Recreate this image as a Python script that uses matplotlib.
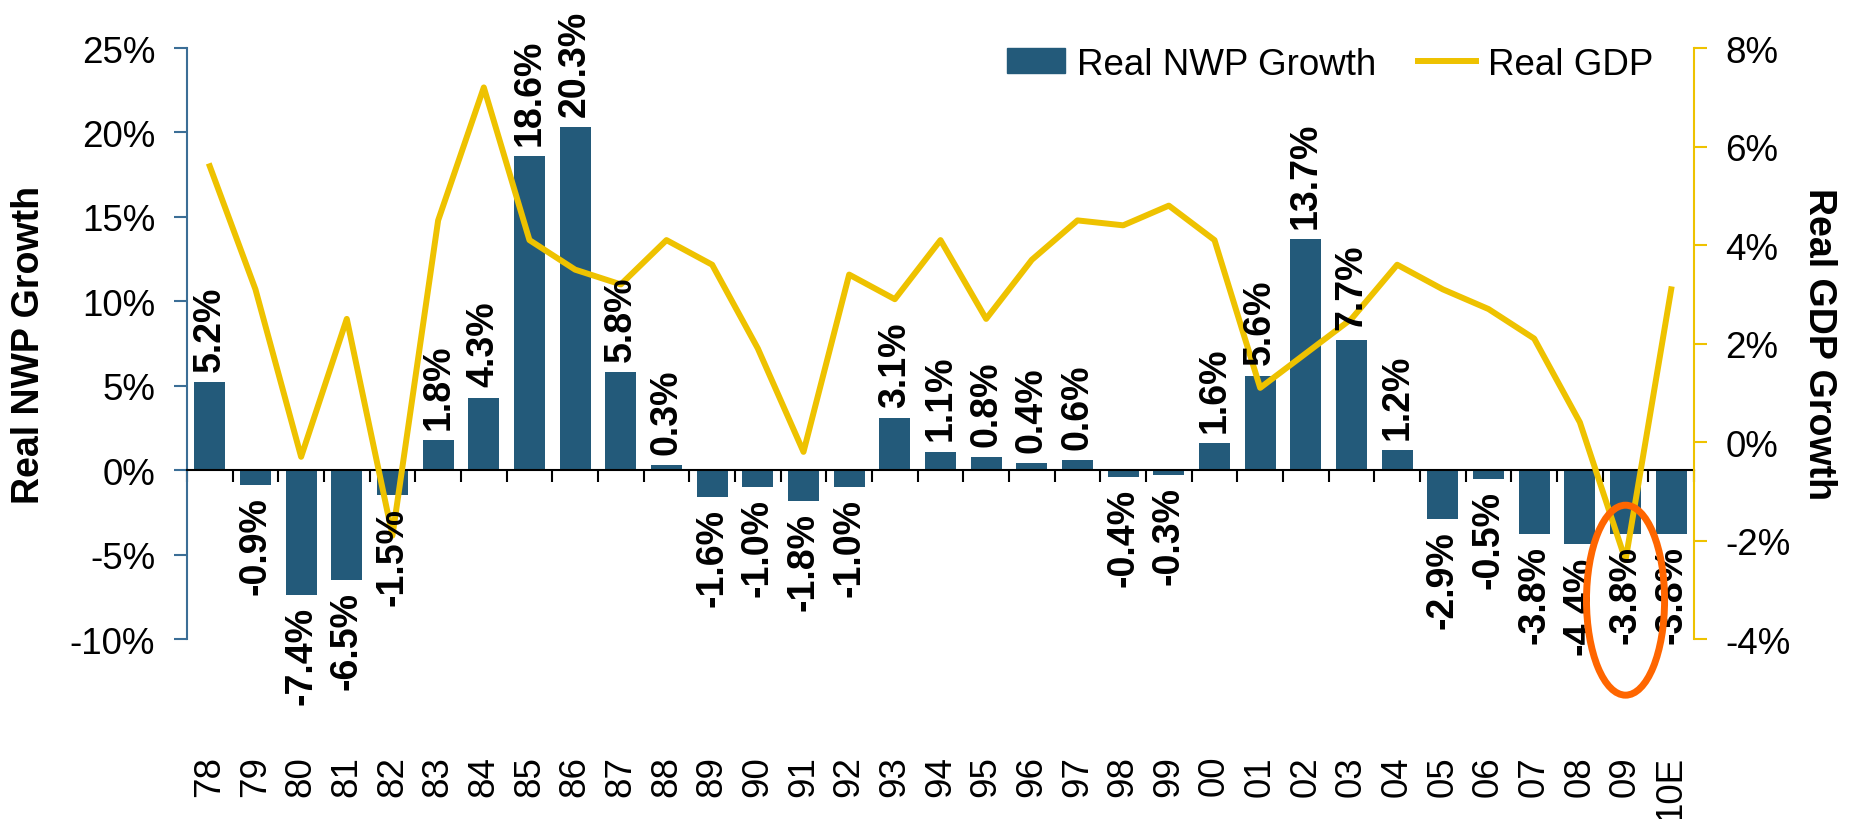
import numpy as np
import matplotlib.pyplot as plt
from matplotlib.patches import Ellipse, Patch
from matplotlib.lines import Line2D

plt.rcParams['font.family'] = ['Liberation Sans', 'DejaVu Sans']

# chart data
years = ['78', '79', '80', '81', '82', '83', '84', '85', '86', '87', '88', '89',
         '90', '91', '92', '93', '94', '95', '96', '97', '98', '99', '00', '01',
         '02', '03', '04', '05', '06', '07', '08', '09', '10E']
nwp_growth = [5.2, -0.9, -7.4, -6.5, -1.5, 1.8, 4.3, 18.6, 20.3, 5.8, 0.3, -1.6,
              -1.0, -1.8, -1.0, 3.1, 1.1, 0.8, 0.4, 0.6, -0.4, -0.3, 1.6, 5.6,
              13.7, 7.7, 1.2, -2.9, -0.5, -3.8, -4.4, -3.8, -3.8]
gdp_growth = [5.6, 3.1, -0.3, 2.5, -1.9, 4.5, 7.2, 4.1, 3.5, 3.2, 4.1, 3.6,
              1.9, -0.2, 3.4, 2.9, 4.1, 2.5, 3.7, 4.5, 4.4, 4.8, 4.1, 1.1,
              1.8, 2.5, 3.6, 3.1, 2.7, 2.1, 0.4, -2.4, 3.1]
nwp_ticks = [-10, -5, 0, 5, 10, 15, 20, 25]
gdp_ticks = [-4, -2, 0, 2, 4, 6, 8]

bar_color = '#235a7a'
gold = '#eec200'
blue_axis = '#3b6e96'

x = np.arange(len(years))

fig = plt.figure(figsize=(18.51, 8.2), dpi=100)
ax = fig.add_axes([0.101, 0.2195, 0.8142, 0.7207])
ax2 = ax.twinx()

ax.bar(x, nwp_growth, width=0.68, color=bar_color, zorder=2)
ax.set_xlim(-0.5, 32.5)
ax.set_ylim(-10, 25)
ax2.set_ylim(-4, 8)
ax2.plot(x, gdp_growth, color=gold, lw=4.3, zorder=3)

# spines
ax.spines['top'].set_visible(False)
ax.spines['right'].set_visible(False)
ax.spines['bottom'].set_position(('data', 0))
ax.spines['bottom'].set_color('black')
ax.spines['bottom'].set_linewidth(1.5)
ax.spines['bottom'].set_zorder(4)
ax.spines['left'].set_color(blue_axis)
ax.spines['left'].set_linewidth(1.5)
for s in ['top', 'left', 'bottom']:
    ax2.spines[s].set_visible(False)
ax2.spines['right'].set_color(gold)
ax2.spines['right'].set_linewidth(1.5)

# x ticks: labels far below, small marks between categories
ax.set_xticks(x)
ax.set_xticklabels(years, rotation=90)
ax.tick_params(axis='x', which='major', length=0, pad=205, labelsize=26.5)
ax.set_xticks(np.arange(-0.5, 33, 1), minor=True)
ax.tick_params(axis='x', which='minor', length=8.5, width=1.5, color='black')

ax.set_yticks(nwp_ticks)
ax.set_yticklabels([f'{v}%' for v in nwp_ticks])
ax.tick_params(axis='y', color=blue_axis, length=9.4, width=1.5, labelsize=26.5, pad=13.5)
ax2.set_yticks(gdp_ticks)
ax2.set_yticklabels([f'{v}%' for v in gdp_ticks])
ax2.tick_params(axis='y', color=gold, length=9.4, width=1.5, labelsize=26.5, pad=13)

ax.set_ylabel('Real NWP Growth', fontsize=27, fontweight='bold', va='center')
ax.yaxis.set_label_coords(-0.105, 0.5)
ax2.set_ylabel('Real GDP Growth', fontsize=27, fontweight='bold', rotation=270, va='center')
ax2.yaxis.set_label_coords(1.083, 0.5)

# bar value labels
for xi, v in zip(x, nwp_growth):
    off = 8 if v >= 0 else -8
    ax2.annotate(f'{v:.1f}%', xy=(xi, v), xycoords=ax.transData,
                 xytext=(0, off), textcoords='offset points', rotation=90,
                 ha='center', va='bottom' if v >= 0 else 'top',
                 fontsize=27, fontweight='bold', zorder=5)

# highlight 2009
ring = Ellipse((31, -7.7), width=1.71, height=11.25, fill=False,
               edgecolor='#ff6600', lw=5, transform=ax.transData, clip_on=False, zorder=10)
ax2.add_patch(ring)

handles = [Patch(color=bar_color, label='Real NWP Growth'),
           Line2D([], [], color=gold, lw=4.3, label='Real GDP')]
fig.legend(handles=handles, loc='center left', bbox_to_anchor=(0.544, 0.9207),
           ncol=2, frameon=False, fontsize=26.5, handlelength=1.57, handleheight=0.65,
           handletextpad=0.32, columnspacing=1.16, borderpad=0, borderaxespad=0)

plt.savefig('out.png', dpi=100)
